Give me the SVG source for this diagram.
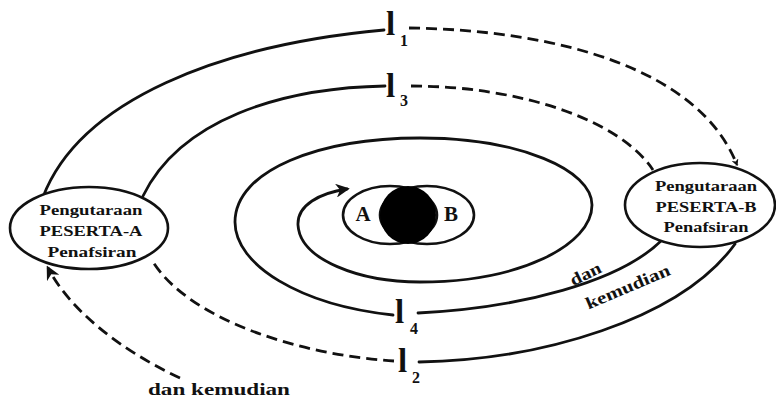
<svg xmlns="http://www.w3.org/2000/svg" width="776" height="398" viewBox="0 0 776 398">
<style>
.c{fill:none;stroke:#111;stroke-width:2.8;stroke-linecap:round}
.d{stroke-dasharray:11 6;stroke-linecap:butt}
.n{fill:#fff;stroke:#111;stroke-width:2.6}
text{font-family:"Liberation Serif","DejaVu Serif",serif;font-weight:bold;fill:#111}
.t{font-size:15px;text-anchor:middle}
.l{font-size:33px}
.s{font-size:16px}
</style>
<defs>
<marker id="ah" viewBox="0 0 10 10" refX="8" refY="5" markerWidth="5" markerHeight="5" orient="auto" markerUnits="strokeWidth">
<path d="M0,0 L10,5 L0,10 L3,5 z" fill="#111"/>
</marker>
<marker id="ahs" viewBox="0 0 10 10" refX="8" refY="5" markerWidth="2.6" markerHeight="2.6" orient="auto" markerUnits="strokeWidth">
<path d="M0,0 L10,5 L0,10 L3,5 z" fill="#111"/>
</marker>
</defs>
<rect width="776" height="398" fill="#fff"/>
<g id="connectors">
<path class="c" d="M43,197 C80,100 220,45 384,30"/>
<path class="c d" d="M409,28 C560,30 700,70 737,165" marker-end="url(#ahs)"/>
<path class="c" d="M143,196 C180,120 280,88 385,86"/>
<path class="c d" d="M411,86 C520,86 620,120 653,170"/>
<path class="c" d="M393,315 C300,305 235,265 235,222 C235,170 320,138 420,138 C520,138 592,170 592,205 C592,245 520,282 420,282 C360,282 300,260 298,225 C297,205 320,193 347,189" marker-end="url(#ah)"/>
<path class="c" d="M418,313 C520,308 620,282 662,240"/>
<path class="c" d="M419,362 C540,360 680,320 735,244"/>
<path class="c d" d="M394,361 C300,355 190,320 153,262"/>
<path class="c d" d="M180,378 C120,350 70,310 48,268" marker-end="url(#ah)"/>
</g>
<g id="venn">
<ellipse cx="390" cy="215" rx="47" ry="29" fill="#fff" stroke="#111" stroke-width="2.6"/>
<ellipse cx="427" cy="215" rx="47" ry="29" fill="none" stroke="#111" stroke-width="2.6"/>
<ellipse cx="408" cy="215" rx="28" ry="29" fill="#000"/>
<text x="363" y="221" font-size="21" text-anchor="middle">A</text>
<text x="451" y="221" font-size="21" text-anchor="middle">B</text>
</g>
<g id="peserta-a">
<ellipse class="n" cx="89" cy="228" rx="79" ry="41"/>
<text class="t" x="91" y="215" textLength="103" lengthAdjust="spacingAndGlyphs">Pengutaraan</text>
<text class="t" x="91" y="236" textLength="103" lengthAdjust="spacingAndGlyphs">PESERTA-A</text>
<text class="t" x="92" y="257" textLength="89" lengthAdjust="spacingAndGlyphs">Penafsiran</text>
</g>
<g id="peserta-b">
<ellipse class="n" cx="700" cy="205" rx="75" ry="42"/>
<text class="t" x="706" y="191" textLength="102" lengthAdjust="spacingAndGlyphs">Pengutaraan</text>
<text class="t" x="706" y="212" textLength="101" lengthAdjust="spacingAndGlyphs">PESERTA-B</text>
<text class="t" x="706" y="232" textLength="85" lengthAdjust="spacingAndGlyphs">Penafsiran</text>
</g>
<g id="labels">
<text class="l" x="386" y="35">l</text><text class="s" x="400" y="46">1</text>
<text class="l" x="386" y="97">l</text><text class="s" x="400" y="106">3</text>
<text class="l" x="395" y="323">l</text><text class="s" x="410" y="334">4</text>
<text class="l" x="398" y="372">l</text><text class="s" x="412" y="383">2</text>
<text font-size="17" transform="translate(588,279) rotate(-26)" text-anchor="middle" textLength="33" lengthAdjust="spacingAndGlyphs">dan</text>
<text font-size="17" transform="translate(630,292) rotate(-23)" text-anchor="middle" textLength="90" lengthAdjust="spacingAndGlyphs">kemudian</text>
<text font-size="17" x="219" y="395" text-anchor="middle" textLength="142" lengthAdjust="spacingAndGlyphs">dan kemudian</text>
</g>
</svg>
